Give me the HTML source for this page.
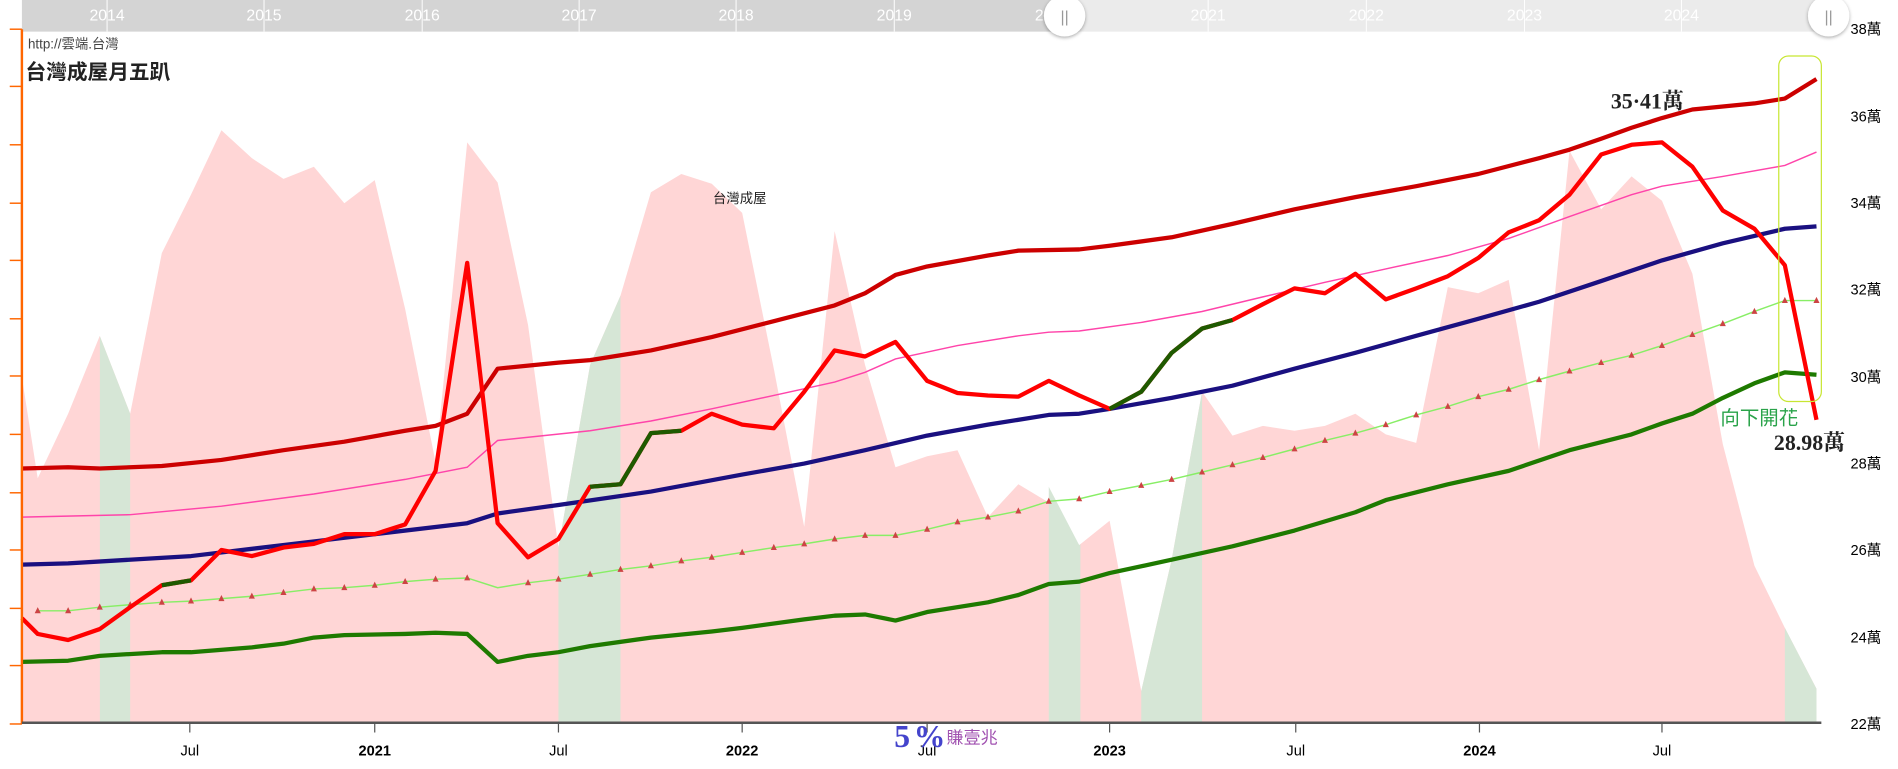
<!DOCTYPE html>
<html><head><meta charset="utf-8"><style>
html,body{margin:0;padding:0;background:#fff;overflow:hidden}
svg{display:block}
</style></head><body>
<svg width="1898" height="769" viewBox="0 0 1560 632" preserveAspectRatio="none" xmlns="http://www.w3.org/2000/svg" font-family="Liberation Sans, Noto Sans CJK TC, sans-serif">
<defs>
<clipPath id="g"><rect x="82" y="0" width="25" height="600"/><rect x="459" y="0" width="51" height="600"/><rect x="862" y="0" width="26" height="600"/><rect x="938" y="0" width="50" height="600"/><rect x="1467" y="0" width="30" height="600"/></clipPath>
<filter id="sh" x="-50%" y="-50%" width="200%" height="200%"><feDropShadow dx="0" dy="1" stdDeviation="1.5" flood-color="#000" flood-opacity="0.35"/></filter>
</defs>
<rect x="18" y="0" width="857" height="26" fill="#d4d4d4"/>
<rect x="875" y="0" width="620" height="26" fill="#ebebeb"/>
<g fill="#fff" font-size="13" text-anchor="middle">
<text x="88" y="17">2014</text><text x="217" y="17">2015</text><text x="347" y="17">2016</text><text x="476" y="17">2017</text><text x="605" y="17">2018</text><text x="735" y="17">2019</text><text x="865" y="17">2020</text><text x="993" y="17">2021</text><text x="1123" y="17">2022</text><text x="1253" y="17">2023</text><text x="1382" y="17">2024</text>
</g>
<g stroke="#fff" stroke-width="0.8"><line x1="88" y1="0" x2="88" y2="26"/><line x1="217" y1="0" x2="217" y2="26"/><line x1="347" y1="0" x2="347" y2="26"/><line x1="476" y1="0" x2="476" y2="26"/><line x1="605" y1="0" x2="605" y2="26"/><line x1="735" y1="0" x2="735" y2="26"/><line x1="993" y1="0" x2="993" y2="26"/><line x1="1123" y1="0" x2="1123" y2="26"/><line x1="1253" y1="0" x2="1253" y2="26"/><line x1="1382" y1="0" x2="1382" y2="26"/></g>
<circle cx="875" cy="13" r="17" fill="#fff" filter="url(#sh)"/>
<circle cx="1503" cy="13" r="17" fill="#fff" filter="url(#sh)"/>
<text x="875" y="18" font-size="13" fill="#999" text-anchor="middle">||</text>
<text x="1503" y="18" font-size="13" fill="#999" text-anchor="middle">||</text>

<polygon fill="#ffd6d6" points="18,595 18,310 31,393 56,340 82,276 107,340 133,208 157,160 182,107 207,130 233,147 258,137 283,167 308,148 333,254 358,380 384,117 409,150 434,267 459,450 485,300 510,243 535,158 560,143 585,151 610,175 636,303 661,433 686,190 711,300 736,384 762,375 787,370 812,425 837,398 862,413 887,448 912,428 938,568 963,460 988,322 1013,358 1038,350 1064,354 1089,350 1114,340 1139,357 1164,364 1190,236 1215,241 1240,230 1265,370 1290,124 1316,172 1341,145 1366,165 1391,225 1416,365 1442,465 1467,516 1493,566 1493,595"/>
<polygon clip-path="url(#g)" fill="#d6e6d6" points="18,595 18,310 31,393 56,340 82,276 107,340 133,208 157,160 182,107 207,130 233,147 258,137 283,167 308,148 333,254 358,380 384,117 409,150 434,267 459,450 485,300 510,243 535,158 560,143 585,151 610,175 636,303 661,433 686,190 711,300 736,384 762,375 787,370 812,425 837,398 862,400 887,448 912,428 938,568 963,460 988,322 1013,358 1038,350 1064,354 1089,350 1114,340 1139,357 1164,364 1190,236 1215,241 1240,230 1265,370 1290,124 1316,172 1341,145 1366,165 1391,225 1416,365 1442,465 1467,516 1493,566 1493,595"/>

<polyline fill="none" stroke="#cc0000" stroke-width="3.5" stroke-linejoin="round" points="18,385 56,384 82,385 133,383 182,378 233,370 283,363 333,354 358,350 384,340 409,303 459,298 485,296 535,288 585,277 636,264 686,251 711,241 736,226 762,219 812,210 837,206 887,205 912,202 963,195 1013,184 1064,172 1114,162 1164,153 1215,143 1265,130 1290,123 1316,114 1341,105 1366,97 1391,90 1442,85 1467,81 1493,65"/>
<polyline fill="none" stroke="#ff44aa" stroke-width="1.2" points="18,425 107,423 182,416 258,406 333,394 384,384 409,362 485,354 535,346 585,336 636,325 686,314 711,306 736,295 787,284 837,276 862,273 887,272 938,265 988,256 1038,244 1089,232 1139,221 1190,210 1240,196 1290,178 1341,160 1366,153 1416,145 1467,136 1493,125"/>
<polyline fill="none" stroke="#1a1080" stroke-width="3.5" stroke-linejoin="round" points="18,464 56,463 157,457 283,442 384,430 409,422 459,415 535,404 610,390 661,381 711,370 762,358 812,349 862,341 887,340 912,336 963,327 1013,317 1064,303 1114,290 1164,276 1215,262 1265,248 1316,231 1366,214 1416,200 1467,188 1493,186"/>
<polyline fill="none" stroke="#1e7a00" stroke-width="3.5" stroke-linejoin="round" points="18,544 56,543 82,539 133,536 157,536 207,532 233,529 258,524 283,522 333,521 358,520 384,521 409,544 434,539 459,536 485,531 535,524 585,519 610,516 661,509 686,506 711,505 736,510 762,503 812,495 837,489 862,480 887,478 912,471 963,460 1013,449 1064,436 1114,421 1139,411 1190,398 1240,387 1290,370 1341,357 1366,348 1391,340 1416,327 1442,315 1467,306 1493,308"/>
<polyline fill="none" stroke="#88ee66" stroke-width="1.2" points="31,502 56,502 82,499 107,497 133,495 157,494 182,492 207,490 233,487 258,484 283,483 308,481 333,478 358,476 384,475 409,483 434,479 459,476 485,472 510,468 535,465 560,461 585,458 610,454 636,450 661,447 686,443 711,440 736,440 762,435 787,429 812,425 837,420 862,412 887,410 912,404 938,399 963,394 988,388 1013,382 1038,376 1064,369 1089,362 1114,356 1139,349 1164,341 1190,334 1215,326 1240,320 1265,312 1290,305 1316,298 1341,292 1366,284 1391,275 1416,266 1442,256 1467,247 1493,247"/>
<g fill="#cc4444">
<path d="M31,499l-2.5,5h5z M56,499l-2.5,5h5z M82,496l-2.5,5h5z M107,494l-2.5,5h5z M133,492l-2.5,5h5z M157,491l-2.5,5h5z M182,489l-2.5,5h5z M207,487l-2.5,5h5z M233,484l-2.5,5h5z M258,481l-2.5,5h5z M283,480l-2.5,5h5z M308,478l-2.5,5h5z M333,475l-2.5,5h5z M358,473l-2.5,5h5z M384,472l-2.5,5h5z M434,476l-2.5,5h5z M459,473l-2.5,5h5z M485,469l-2.5,5h5z M510,465l-2.5,5h5z M535,462l-2.5,5h5z M560,458l-2.5,5h5z M585,455l-2.5,5h5z M610,451l-2.5,5h5z M636,447l-2.5,5h5z M661,444l-2.5,5h5z M686,440l-2.5,5h5z M711,437l-2.5,5h5z M736,437l-2.5,5h5z M762,432l-2.5,5h5z M787,426l-2.5,5h5z M812,422l-2.5,5h5z M837,417l-2.5,5h5z M862,409l-2.5,5h5z M887,407l-2.5,5h5z M912,401l-2.5,5h5z M938,396l-2.5,5h5z M963,391l-2.5,5h5z M988,385l-2.5,5h5z M1013,379l-2.5,5h5z M1038,373l-2.5,5h5z M1064,366l-2.5,5h5z M1089,359l-2.5,5h5z M1114,353l-2.5,5h5z M1139,346l-2.5,5h5z M1164,338l-2.5,5h5z M1190,331l-2.5,5h5z M1215,323l-2.5,5h5z M1240,317l-2.5,5h5z M1265,309l-2.5,5h5z M1290,302l-2.5,5h5z M1316,295l-2.5,5h5z M1341,289l-2.5,5h5z M1366,281l-2.5,5h5z M1391,272l-2.5,5h5z M1416,263l-2.5,5h5z M1442,253l-2.5,5h5z M1467,244l-2.5,5h5z M1493,244l-2.5,5h5z"/>
</g>
<polyline fill="none" stroke="#ff0000" stroke-width="3.5" stroke-linejoin="round" points="18,508 31,521 56,526 82,517 107,499 133,481 157,477 182,452 207,457 233,450 258,447 283,439 308,439 333,431 358,387 384,216 409,430 434,458 459,443 485,400 510,398 535,356 560,354 585,340 610,349 636,352 661,322 686,288 711,293 736,281 762,313 787,323 812,325 837,326 862,313 887,325 912,336 938,322 963,290 988,270 1013,263 1038,250 1064,237 1089,241 1114,225 1139,246 1164,237 1190,227 1215,212 1240,191 1265,181 1290,160 1316,127 1341,119 1366,117 1391,137 1416,173 1442,188 1467,218 1493,345"/>
<g fill="none" stroke="#1e5a00" stroke-width="3.5" stroke-linejoin="round">
<polyline points="133,481 157,477"/>
<polyline points="485,400 510,398 535,356 560,354"/>
<polyline points="912,336 938,322 963,290 988,270 1013,263"/>
</g>

<rect x="1462" y="46" width="35" height="284" rx="8" fill="none" stroke="#c8e632" stroke-width="1"/>

<line x1="18" y1="24" x2="18" y2="595" stroke="#ff6600" stroke-width="2"/>
<g stroke="#ff6600" stroke-width="1.2">
<line x1="8" y1="24" x2="18" y2="24"/><line x1="8" y1="71" x2="18" y2="71"/><line x1="8" y1="119" x2="18" y2="119"/><line x1="8" y1="167" x2="18" y2="167"/><line x1="8" y1="214" x2="18" y2="214"/><line x1="8" y1="262" x2="18" y2="262"/><line x1="8" y1="309" x2="18" y2="309"/><line x1="8" y1="357" x2="18" y2="357"/><line x1="8" y1="405" x2="18" y2="405"/><line x1="8" y1="452" x2="18" y2="452"/><line x1="8" y1="500" x2="18" y2="500"/><line x1="8" y1="547" x2="18" y2="547"/><line x1="8" y1="595" x2="18" y2="595"/>
</g>

<line x1="18" y1="594" x2="1497" y2="594" stroke="#555" stroke-width="2"/>
<g stroke="#555" stroke-width="1"><line x1="156" y1="594" x2="156" y2="602"/><line x1="308" y1="594" x2="308" y2="602"/><line x1="459" y1="594" x2="459" y2="602"/><line x1="610" y1="594" x2="610" y2="602"/><line x1="762" y1="594" x2="762" y2="602"/><line x1="912" y1="594" x2="912" y2="602"/><line x1="1065" y1="594" x2="1065" y2="602"/><line x1="1216" y1="594" x2="1216" y2="602"/><line x1="1366" y1="594" x2="1366" y2="602"/></g>
<g font-size="12" text-anchor="middle" fill="#000">
<text x="156" y="621">Jul</text><text x="308" y="621" font-weight="bold">2021</text><text x="459" y="621">Jul</text><text x="610" y="621" font-weight="bold">2022</text><text x="762" y="621">Jul</text><text x="912" y="621" font-weight="bold">2023</text><text x="1065" y="621">Jul</text><text x="1216" y="621" font-weight="bold">2024</text><text x="1366" y="621">Jul</text>
</g>
<g font-size="12" fill="#000">
<text x="1521" y="28">38萬</text><text x="1521" y="100">36萬</text><text x="1521" y="171">34萬</text><text x="1521" y="242">32萬</text><text x="1521" y="314">30萬</text><text x="1521" y="385">28萬</text><text x="1521" y="456">26萬</text><text x="1521" y="528">24萬</text><text x="1521" y="599">22萬</text>
</g>

<text x="23" y="40" font-size="11" fill="#444">http://雲端.台灣</text>
<text x="21" y="65" font-size="17" font-weight="bold" fill="#222">台灣成屋月五趴</text>
<text x="586" y="167" font-size="11" fill="#222">台灣成屋</text>
<text x="1324" y="89" font-size="18" font-weight="bold" fill="#222" font-family="Liberation Serif, Noto Serif CJK SC, serif">35·41萬</text>
<text x="1414" y="349" font-size="16" fill="#2aa34a">向下開花</text>
<text x="1458" y="370" font-size="18" font-weight="bold" fill="#222" font-family="Liberation Serif, Noto Serif CJK SC, serif">28.98萬</text>
<text x="735" y="614" font-size="26" font-weight="bold" fill="#4444cc" font-family="Liberation Serif, serif" textLength="42">5%</text>
<text x="778" y="611" font-size="14" fill="#a050b0">賺壹兆</text>
</svg>
</body></html>
